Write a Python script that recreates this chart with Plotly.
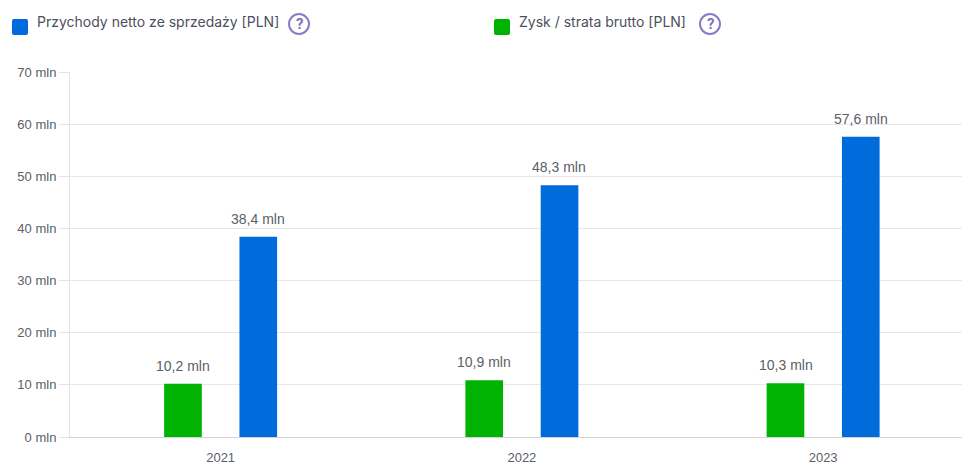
import plotly.graph_objects as go

years = ["2021", "2022", "2023"]
zysk = [10.2, 10.9, 10.3]
przychody = [38.4, 48.3, 57.6]
y_ticks = [0, 10, 20, 30, 40, 50, 60, 70]
y_labels = [f"{v} mln" for v in y_ticks]
name_a = "Przychody netto ze sprzedaży [PLN]"
name_b = "Zysk / strata brutto [PLN]"

W, H = 962, 464
L, T, R, B = 70, 72, 0, 27
FONT = "Liberation Sans, Arial, sans-serif"
GREY = "#5a6068"


def lab(v):
    return f"{v:.1f} mln".replace(".", ",")


def px(x):
    return (x - L) / (W - L)


def py(y):
    return (H - B - y) / (H - T - B)


def rounded(x0, y0, s, r):
    x1, y1 = x0 + s, y0 + s
    return (f"M{px(x0 + r)},{py(y0)} L{px(x1 - r)},{py(y0)} Q{px(x1)},{py(y0)} {px(x1)},{py(y0 + r)} "
            f"L{px(x1)},{py(y1 - r)} Q{px(x1)},{py(y1)} {px(x1 - r)},{py(y1)} "
            f"L{px(x0 + r)},{py(y1)} Q{px(x0)},{py(y1)} {px(x0)},{py(y1 - r)} "
            f"L{px(x0)},{py(y0 + r)} Q{px(x0)},{py(y0)} {px(x0 + r)},{py(y0)} Z")


fig = go.Figure()
fig.add_bar(x=years, y=zysk, name=name_b, marker=dict(color="#00b300", line=dict(width=0)),
            hoverinfo="x+y+name")
fig.add_bar(x=years, y=przychody, name=name_a, marker=dict(color="#006bdb", line=dict(width=0)),
            hoverinfo="x+y+name")

shapes = []
annos = []
for x0, cx, text, col, qx in [(12, 35, name_a, "#006bdb", 299), (494, 517, name_b, "#00b300", 710)]:
    shapes.append(dict(type="path", xref="paper", yref="paper", path=rounded(x0, 19, 16, 2),
                       fillcolor=col, line=dict(width=0), layer="above"))
    annos.append(dict(text=text, xref="paper", yref="paper", x=px(cx), y=py(22),
                      xanchor="left", yanchor="middle", showarrow=False,
                      font=dict(family="Inter, Roboto, sans-serif", size=14, color="#4d4f5c")))
    shapes.append(dict(type="circle", xref="paper", yref="paper",
                       x0=px(qx - 10), x1=px(qx + 10), y0=py(34), y1=py(14),
                       line=dict(color="#8a7cc4", width=2), fillcolor="rgba(0,0,0,0)"))
    annos.append(dict(text="<b>?</b>", xref="paper", yref="paper", x=px(qx), y=py(24),
                      xanchor="center", yanchor="middle", showarrow=False,
                      font=dict(family="Roboto, sans-serif", size=15, color="#7f70bd")))

for vals, shift in [(zysk, -37.5), (przychody, 37.5)]:
    for i, v in enumerate(vals):
        annos.append(dict(x=i, y=v, xref="x", yref="y", text=lab(v), showarrow=False,
                          xshift=shift, yshift=8, yanchor="bottom", xanchor="center",
                          font=dict(family=FONT, size=14, color=GREY)))

fig.update_layout(
    width=W, height=H, autosize=False,
    margin=dict(l=L, r=R, t=T, b=B, pad=0),
    paper_bgcolor="white", plot_bgcolor="white",
    barmode="group", bargap=0.5, bargroupgap=0.5,
    showlegend=False, shapes=shapes, annotations=annos,
    font=dict(family=FONT, size=13, color=GREY),
    xaxis=dict(type="category", range=[-0.5, 2.461], showgrid=False, ticks="",
               showline=True, linecolor="#d4d4d4", linewidth=1, tickfont=dict(size=13, color=GREY),
               ticklabelstandoff=8, fixedrange=True),
    yaxis=dict(range=[0, 70], tickvals=y_ticks, ticktext=y_labels, ticks="outside", ticklen=10,
               tickcolor="#e4e4e4", tickwidth=1, gridcolor="#e8e8e8", gridwidth=1,
               showline=True, linecolor="#e4e4e4", linewidth=1, zeroline=False,
               tickfont=dict(size=13, color=GREY), fixedrange=True),
)

fig.write_html("out.html", config={"displayModeBar": False},
               post_script="document.body.style.margin='0';")
